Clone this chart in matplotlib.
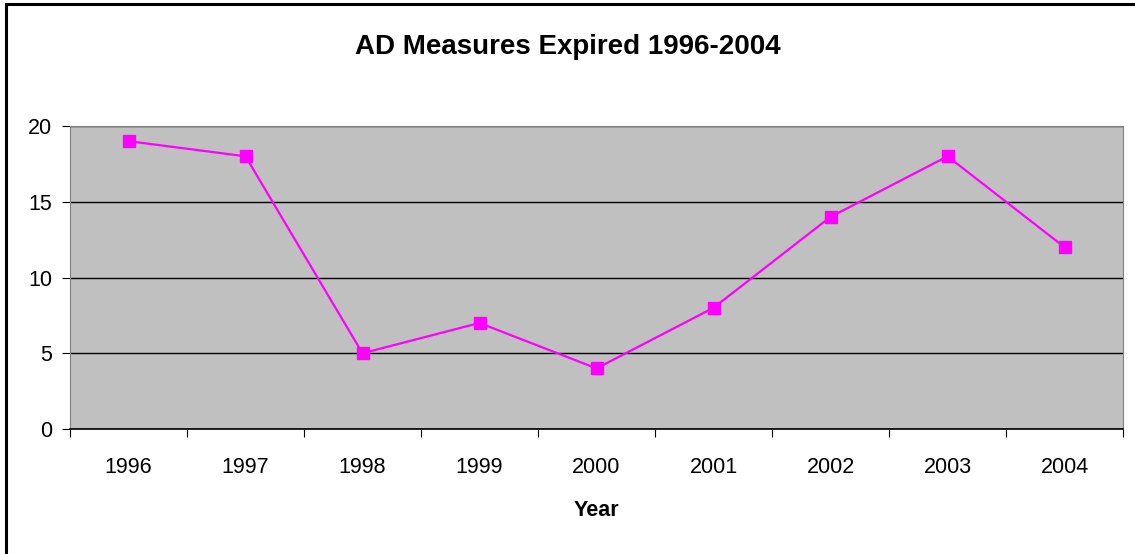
import matplotlib.pyplot as plt
from matplotlib.patches import Rectangle

years = ['1996', '1997', '1998', '1999', '2000', '2001', '2002', '2003', '2004']
expired = [19, 18, 5, 7, 4, 8, 14, 18, 12]

plt.rcParams['font.family'] = ['Liberation Sans', 'DejaVu Sans']

fig = plt.figure(figsize=(11.35, 5.54), dpi=100)
ax = fig.add_axes([70/1135, 125/554, 1053/1135, 303/554])

# marco negro de la figura (solo arriba e izquierda se ven)
fig.patches.append(Rectangle((6/1135, -0.05), 1.2, (554-4)/554 + 0.05, transform=fig.transFigure,
                             fill=False, edgecolor='black', linewidth=2.2))

ax.set_facecolor('#c0c0c0')
x = list(range(len(years)))
ax.plot(x, expired, color='#ff00ff', linewidth=1.6, marker='s', markersize=8, zorder=3)

ax.set_xlim(-0.5, len(years) - 0.5)
ax.set_ylim(0, 20)
ax.set_yticks([0, 5, 10, 15, 20])
ax.yaxis.grid(True, color='black', linewidth=1)
ax.set_axisbelow(True)

ax.set_xticks([i - 0.5 for i in range(len(years) + 1)])
ax.set_xticklabels([])
ax.set_xticks(x, minor=True)
ax.set_xticklabels(years, minor=True)
ax.tick_params(axis='x', which='major', length=6, direction='out', color='black')
ax.tick_params(axis='x', which='minor', length=0, pad=20, labelsize=15.5)
ax.tick_params(axis='y', length=6, labelsize=15.5, pad=7)

for s in ['top', 'right', 'left']:
    ax.spines[s].set_color('#808080')
ax.spines['bottom'].set_color('black')
ax.spines['bottom'].set_linewidth(1.2)

ax.set_xlabel('Year', fontsize=15.5, fontweight='bold', labelpad=16)
fig.text(0.5, 1 - 47/554, 'AD Measures Expired 1996-2004', ha='center', va='center',
         fontsize=20, fontweight='bold')

plt.savefig('out.png', dpi=100)
